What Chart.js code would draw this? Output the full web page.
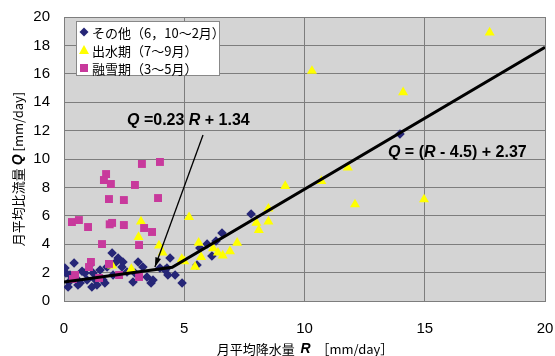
<!DOCTYPE html>
<html>
<head>
<meta charset="utf-8">
<script src="https://cdn.jsdelivr.net/npm/chart.js@4.4.1/dist/chart.umd.min.js"></script>
<style>
  html, body { margin: 0; padding: 0; background: #fff; }
  #wrap { width: 555px; height: 356px; position: relative; }
</style>
</head>
<body>
<div id="wrap"><canvas id="chart" width="555" height="356"></canvas></div>
<script>
// その他 (6, 10~2月)
const otherR = [0.08, 0.42, 0.21, 0.67, 0.96, 1.16, 1.21, 0.87, 1.79, 2.0, 2.25, 2.41, 2.04, 1.62, 1.37, 2.45, 2.62, 0.17, 0.58, 1.70,
  2.87, 3.28, 3.62, 4.28, 4.62, 4.91, 4.41, 2.95, 3.45, 3.70, 4.20, 4.32, 0.04, 0.25, 1.50, 1.08, 2.12, 3.08, 3.99, 5.53,
  5.65, 5.95, 6.15, 6.32, 6.57, 7.78, 13.97, 0.5, 0.75, 1.3];
const otherQ = [1.97, 2.68, 1.34, 1.27, 1.48, 0.99, 1.97, 1.97, 2.39, 3.38, 3.03, 2.39, 1.83, 1.48, 1.13, 2.75, 2.04, 0.99, 1.13, 1.27,
  1.34, 2.39, 1.27, 2.32, 1.83, 1.27, 3.03, 1.97, 1.69, 1.48, 2.18, 1.83, 2.32, 1.83, 2.18, 2.54, 2.68, 2.75, 2.32, 2.54,
  3.73, 4.01, 3.17, 4.23, 4.79, 6.13, 11.76, 1.6, 2.1, 1.5];

// 出水期 (7~9月)
const floodR = [17.7, 10.31, 14.1, 11.8, 10.7, 9.2, 14.97, 12.1, 5.2, 8.5, 8.0, 8.5, 8.1, 5.6, 6.2, 5.7, 6.4, 6.6, 6.9, 7.2,
  4.9, 5.0, 5.45, 3.2, 3.1, 3.95, 4.1, 2.8, 2.0];
const floodQ = [18.9, 16.2, 14.7, 9.4, 8.45, 8.1, 7.15, 6.8, 5.9, 6.5, 5.5, 5.6, 5.0, 4.1, 3.7, 3.1, 3.4, 3.2, 3.5, 4.1,
  2.95, 2.8, 2.4, 5.6, 4.5, 3.9, 3.4, 2.25, 2.5];

// 融雪期 (3~5月)
const snowR = [0.33, 0.62, 1.0, 1.58, 1.87, 1.75, 1.66, 1.95, 2.49, 2.49, 2.95, 3.24, 3.99, 3.91, 3.33, 3.66, 3.12, 1.12, 1.04, 1.87,
  0.46, 0.37, 1.46, 2.29, 3.12, 1.9, 2.0];
const snowQ = [5.56, 5.70, 5.21, 4.01, 7.18, 8.94, 8.52, 8.24, 7.11, 5.35, 8.17, 9.65, 9.79, 7.25, 5.14, 4.86, 3.94, 2.75, 2.39, 2.61,
  1.83, 1.55, 1.62, 1.83, 1.69, 5.4, 5.5];

// fitted lines: Q = 0.23R + 1.34 and Q = (R - 4.5) + 2.37
const fitR = [0, 4.5, 20];
const fitQ = [1.34, 2.37, 17.87];

const xTicks = [0, 5, 10, 15, 20];
const yTicks = [0, 2, 4, 6, 8, 10, 12, 14, 16, 18, 20];

const legendLabels = ['その他（6，10～2月）', '出水期（7～9月）', '融雪期（3～5月）'];
const colors = { other: '#262677', flood: '#ffff00', snow: '#c8399c' };

const pts = (xs, ys) => xs.map((x, i) => ({ x, y: ys[i] }));

const LATIN = '"Liberation Sans", Arial, sans-serif';
const CJK = '"Noto Sans CJK JP", sans-serif';

function richWidth(ctx, parts) {
  let w = 0;
  for (const p of parts) { ctx.font = p.font; w += ctx.measureText(p.t).width; }
  return w;
}
function drawRich(ctx, x, y, parts) {
  ctx.textBaseline = 'middle';
  ctx.textAlign = 'left';
  for (const p of parts) {
    ctx.font = p.font;
    ctx.fillText(p.t, x, y);
    x += ctx.measureText(p.t).width;
  }
}

const plotBg = {
  id: 'plotBg',
  beforeDraw(chart) {
    const { ctx, chartArea: a } = chart;
    ctx.save();
    ctx.fillStyle = '#d4d4d4';
    ctx.fillRect(a.left, a.top, a.right - a.left, a.bottom - a.top);
    ctx.restore();
  }
};

const extras = {
  id: 'extras',
  afterDraw(chart) {
    const { ctx } = chart;
    const xs = chart.scales.x, ys = chart.scales.y;
    ctx.save();
    ctx.fillStyle = '#000';

    // arrow to first line
    const x1 = xs.getPixelForValue(5.78), y1 = ys.getPixelForValue(11.69);
    const x2 = xs.getPixelForValue(3.78), y2 = ys.getPixelForValue(2.39);
    ctx.strokeStyle = '#000';
    ctx.lineWidth = 1.3;
    ctx.beginPath(); ctx.moveTo(x1, y1); ctx.lineTo(x2, y2); ctx.stroke();
    const ang = Math.atan2(y2 - y1, x2 - x1);
    ctx.beginPath();
    ctx.moveTo(x2, y2);
    ctx.lineTo(x2 - 10 * Math.cos(ang - 0.3), y2 - 10 * Math.sin(ang - 0.3));
    ctx.lineTo(x2 - 10 * Math.cos(ang + 0.3), y2 - 10 * Math.sin(ang + 0.3));
    ctx.closePath(); ctx.fill();

    // equations
    const b = 'bold 16px ' + LATIN, bi = 'italic bold 16px ' + LATIN;
    drawRich(ctx, xs.getPixelForValue(2.62), ys.getPixelForValue(12.68), [
      { t: 'Q', font: bi }, { t: ' =0.23 ', font: b }, { t: 'R', font: bi }, { t: ' + 1.34', font: b }
    ]);
    drawRich(ctx, xs.getPixelForValue(13.47), ys.getPixelForValue(10.42), [
      { t: 'Q', font: bi }, { t: ' = (', font: b },
      { t: 'R', font: bi }, { t: ' - 4.5) + 2.37', font: b }
    ]);

    // legend
    ctx.fillStyle = '#fff';
    ctx.fillRect(76, 21, 143, 54);
    ctx.strokeStyle = '#888';
    ctx.lineWidth = 1;
    ctx.strokeRect(76.5, 21.5, 143, 54);
    const rowY = [32, 50, 68];
    // diamond
    ctx.fillStyle = colors.other;
    ctx.beginPath();
    ctx.moveTo(84, rowY[0] - 4.5); ctx.lineTo(88.5, rowY[0]); ctx.lineTo(84, rowY[0] + 4.5); ctx.lineTo(79.5, rowY[0]);
    ctx.closePath(); ctx.fill();
    // triangle
    ctx.fillStyle = colors.flood;
    ctx.beginPath();
    ctx.moveTo(84, rowY[1] - 5); ctx.lineTo(89, rowY[1] + 4); ctx.lineTo(79, rowY[1] + 4);
    ctx.closePath(); ctx.fill();
    // square
    ctx.fillStyle = colors.snow;
    ctx.fillRect(80, rowY[2] - 4, 8, 8);
    ctx.fillStyle = '#000';
    ctx.font = '13px ' + CJK;
    ctx.textBaseline = 'middle';
    legendLabels.forEach((t, i) => ctx.fillText(t, 92, rowY[i] + 1));

    // axis titles
    const jp = '13px ' + CJK, it = 'italic bold 14px ' + LATIN;
    const xParts = [{ t: '月平均降水量  ', font: jp }, { t: 'R', font: it }, { t: '  ［mm/day］', font: jp }];
    const xw = richWidth(ctx, xParts);
    drawRich(ctx, 305 - xw / 2, 349, xParts);

    const yParts = [{ t: '月平均比流量 ', font: jp }, { t: 'Q', font: it }, { t: ' [mm/day]', font: jp }];
    const yw = richWidth(ctx, yParts);
    ctx.translate(18, 169);
    ctx.rotate(-Math.PI / 2);
    drawRich(ctx, -yw / 2, 0, yParts);
    ctx.restore();
  }
};

new Chart(document.getElementById('chart'), {
  type: 'scatter',
  data: {
    datasets: [
      {
        type: 'line', label: 'fit', data: pts(fitR, fitQ),
        borderColor: '#000', borderWidth: 3, pointRadius: 0, fill: false, tension: 0
      },
      {
        label: legendLabels[2], data: pts(snowR, snowQ), pointStyle: 'rect',
        backgroundColor: colors.snow, borderWidth: 0, pointRadius: 5.6
      },
      {
        label: legendLabels[1], data: pts(floodR, floodQ), pointStyle: 'triangle',
        backgroundColor: colors.flood, borderWidth: 0, pointRadius: 5.8
      },
      {
        label: legendLabels[0], data: pts(otherR, otherQ), pointStyle: 'rectRot',
        backgroundColor: colors.other, borderWidth: 0, pointRadius: 4.8
      }
    ]
  },
  options: {
    responsive: false,
    devicePixelRatio: 1,
    animation: false,
    layout: { padding: { left: 0, top: 17, right: 10, bottom: 0 } },
    plugins: { legend: { display: false }, tooltip: { enabled: false } },
    scales: {
      x: {
        type: 'linear', min: 0, max: 20,
        afterBuildTicks: s => { s.ticks = xTicks.map(v => ({ value: v })); },
        afterFit: s => { s.height = 55; s.paddingLeft = 0; s.paddingRight = 0; },
        grid: { color: '#7d7d7d', lineWidth: 1, drawTicks: false },
        border: { color: '#7d7d7d' },
        ticks: { padding: 19, color: '#000', font: { family: LATIN, size: 15 } }
      },
      y: {
        type: 'linear', min: 0, max: 20,
        afterBuildTicks: s => { s.ticks = yTicks.map(v => ({ value: v })); },
        afterFit: s => { s.width = 64; s.paddingTop = 0; s.paddingBottom = 0; },
        grid: { color: '#7d7d7d', lineWidth: 1, drawTicks: false },
        border: { color: '#7d7d7d' },
        ticks: { padding: 14, color: '#000', font: { family: LATIN, size: 15 } }
      }
    }
  },
  plugins: [plotBg, extras]
});
</script>
</body>
</html>
